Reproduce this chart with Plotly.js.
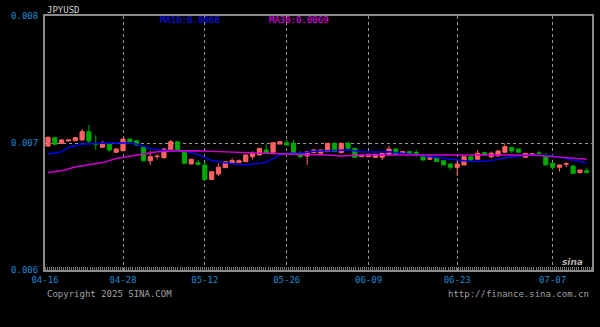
<!DOCTYPE html>
<html>
<head>
<meta charset="utf-8">
<script src="https://cdn.plot.ly/plotly-3.0.1.min.js"></script>
<style>html,body{margin:0;padding:0;background:#000;}#chart{width:600px;height:327px;}</style>
</head>
<body>
<div id="chart"></div>
<script>
// ---- data (candle index 0..79) ----
const openP  = [0.006976,0.007042,0.006998,0.007016,0.007018,0.007024,0.007089,0.006995,0.006966,0.006990,
                0.006927,0.006939,0.007031,0.007018,0.006971,0.006860,0.006893,0.006884,0.006939,0.007010,
                0.006939,0.006835,0.006845,0.006827,0.006713,0.006756,0.006806,0.006840,0.006845,0.006853,
                0.006892,0.006906,0.006945,0.006927,0.006992,0.007002,0.006998,0.006919,0.006898,0.006924,
                0.006919,0.006932,0.006998,0.006924,0.006998,0.006958,0.006892,0.006892,0.006887,0.006887,
                0.006906,0.006953,0.006913,0.006932,0.006924,0.006898,0.006872,0.006884,0.006860,0.006835,
                0.006809,0.006827,0.006892,0.006872,0.006924,0.006892,0.006898,0.006927,0.006966,0.006953,
                0.006887,0.006913,0.006921,0.006892,0.006840,0.006809,0.006833,0.006819,0.006766,0.006782];
const highP  = [0.007050,0.007050,0.007028,0.007026,0.007045,0.007110,0.007142,0.007060,0.007018,0.006995,
                0.006955,0.007035,0.007035,0.007020,0.006976,0.006937,0.006911,0.006960,0.007024,0.007014,
                0.006942,0.006875,0.006866,0.006850,0.006776,0.006840,0.006855,0.006880,0.006872,0.006908,
                0.006935,0.006960,0.006990,0.007004,0.007012,0.007024,0.007024,0.006935,0.006934,0.006955,
                0.006947,0.007000,0.007000,0.007000,0.007012,0.006960,0.006908,0.006913,0.006913,0.006921,
                0.006976,0.006955,0.006934,0.006934,0.006945,0.006900,0.006908,0.006886,0.006862,0.006837,
                0.006860,0.006894,0.006905,0.006945,0.006926,0.006932,0.006945,0.006998,0.006968,0.006955,
                0.006921,0.006916,0.006936,0.006921,0.006850,0.006830,0.006850,0.006827,0.006790,0.006806];
const lowP   = [0.006970,0.006985,0.006995,0.007014,0.007015,0.007020,0.006992,0.006945,0.006962,0.006932,
                0.006925,0.006935,0.007008,0.006982,0.006858,0.006827,0.006872,0.006880,0.006936,0.006936,
                0.006838,0.006832,0.006820,0.006710,0.006710,0.006740,0.006803,0.006835,0.006843,0.006850,
                0.006870,0.006904,0.006917,0.006925,0.006990,0.006982,0.006922,0.006880,0.006827,0.006920,
                0.006917,0.006930,0.006930,0.006922,0.006956,0.006885,0.006890,0.006890,0.006885,0.006866,
                0.006904,0.006911,0.006911,0.006917,0.006890,0.006864,0.006866,0.006851,0.006825,0.006790,
                0.006740,0.006825,0.006850,0.006870,0.006904,0.006880,0.006896,0.006925,0.006920,0.006925,
                0.006885,0.006910,0.006900,0.006825,0.006790,0.006774,0.006810,0.006755,0.006764,0.006764];
const closeP = [0.007045,0.006990,0.007024,0.007024,0.007042,0.007089,0.007016,0.006990,0.006998,0.006945,
                0.006953,0.007031,0.007010,0.006984,0.006860,0.006892,0.006896,0.006953,0.007010,0.006939,
                0.006840,0.006872,0.006832,0.006713,0.006774,0.006809,0.006853,0.006861,0.006861,0.006906,
                0.006919,0.006958,0.006919,0.007002,0.007010,0.006984,0.006924,0.006892,0.006932,0.006945,
                0.006945,0.006998,0.006932,0.006998,0.006958,0.006887,0.006906,0.006911,0.006911,0.006919,
                0.006953,0.006913,0.006932,0.006919,0.006920,0.006866,0.006884,0.006853,0.006827,0.006809,
                0.006835,0.006892,0.006866,0.006919,0.006906,0.006919,0.006937,0.006971,0.006937,0.006927,
                0.006919,0.006914,0.006920,0.006827,0.006809,0.006827,0.006836,0.006761,0.006787,0.006766];

const ma10Idx = [0,2,3,5,8,11,13,15,17,20,22,24,26,28,29,31,32,34,35,37,39,41,44,46,48,50,52,55,57,59,61,63,65,67,69,71,74,76,78,79];
const ma10Val = [0.006913,0.006931,0.006965,0.006992,0.006998,0.007002,0.006992,0.006954,0.006943,0.006937,
                 0.006909,0.006862,0.006844,0.006831,0.006827,0.006840,0.006848,0.006906,0.006919,0.006919,
                 0.006935,0.006939,0.006945,0.006931,0.006928,0.006931,0.006918,0.006899,0.006891,0.006878,
                 0.006860,0.006854,0.006861,0.006882,0.006898,0.006906,0.006899,0.006878,0.006850,0.006841];
const ma30Idx = [0,2,4,8,10,14,16,18,22,25,28,32,35,38,41,43,45,48,52,60,66,71,74,77,79];
const ma30Val = [0.006768,0.006782,0.006811,0.006846,0.006878,0.006917,0.006931,0.006937,0.006939,0.006932,
                 0.006924,0.006919,0.006913,0.006911,0.006906,0.006898,0.006904,0.006906,0.006906,0.006911,
                 0.006906,0.006906,0.006893,0.006880,0.006872];

const tickIdx = [0, 11, 23, 35, 47, 60, 74];
const tickLabels = ['04-16','04-28','05-12','05-26','06-09','06-23','07-07'];
const yTicks = [0.006, 0.007, 0.008];
const yTickLabels = ['0.006','0.007','0.008'];
const titleText = 'JPYUSD';
const legend10 = 'MA10:0.0068';
const legend30 = 'MA30:0.0069';

// ---- chart ----
const idx = openP.map((_, i) => i);
const W = 600, H = 327, L = 45, R = 8, T = 16, B = 57;
const pw = W - L - R, ph = H - T - B;
const px = x => (x - L) / pw;
const py = y => (H - B - y) / ph;
const xRange = [-0.44, 79.77];
const mono = 'DejaVu Sans Mono, monospace';

const traces = [
  {type:'candlestick', x: idx, open: openP, high: highP, low: lowP, close: closeP,
   increasing:{line:{color:'#ff6262', width:1}, fillcolor:'#ff6262'},
   decreasing:{line:{color:'#00a800', width:1}, fillcolor:'#00a800'},
   whiskerwidth: 0, hoverinfo:'skip', showlegend:false},
  {type:'scatter', mode:'lines', x: ma10Idx, y: ma10Val, line:{color:'#0000f0', width:1.4}, hoverinfo:'skip', showlegend:false},
  {type:'scatter', mode:'lines', x: ma30Idx, y: ma30Val, line:{color:'#d000d0', width:1.4}, hoverinfo:'skip', showlegend:false}
];

const layout = {
  width: W, height: H,
  margin: {l: L, r: R, t: T, b: B, pad: 0},
  paper_bgcolor: '#000', plot_bgcolor: '#000',
  boxgap: 0.12,
  font: {family: mono, size: 9, color: '#aaa'},
  showlegend: false,
  xaxis: {
    range: xRange, rangeslider: {visible: false},
    tickmode: 'array', tickvals: tickIdx.map((v, i) => i === 0 ? xRange[0] : v), ticktext: tickLabels,
    tickfont: {family: mono, size: 9, color: '#1e88d0'},
    ticks: '', showgrid: true, gridcolor: '#9a9a9a', griddash: 'dot', gridwidth: 1,
    showline: true, linecolor: '#8a8a8a', linewidth: 2, mirror: true, zeroline: false,
    minor: {tickmode: 'linear', tick0: -0.44, dtick: 0.3, ticks: 'inside', ticklen: 3, tickcolor: '#777', tickwidth: 1, showgrid: false},
    fixedrange: true
  },
  yaxis: {
    range: [0.006, 0.008], tickmode: 'array', tickvals: yTicks, ticktext: yTickLabels,
    tickfont: {family: mono, size: 9, color: '#1e88d0'},
    ticks: '', ticklabelstandoff: 3, showgrid: true, gridcolor: '#9a9a9a', griddash: 'dot', gridwidth: 1,
    showline: true, linecolor: '#8a8a8a', linewidth: 2, mirror: true, zeroline: false, fixedrange: true
  },
  annotations: [
    {xref:'paper', yref:'paper', x: px(45), y: py(10), xanchor:'left', yanchor:'middle', showarrow:false,
     text: titleText, font:{family: mono, size: 9, color:'#d0d0d0'}},
    {xref:'paper', yref:'paper', x: px(158), y: py(20), xanchor:'left', yanchor:'middle', showarrow:false,
     text: legend10, font:{family: mono, size: 9, color:'#1010ff'}},
    {xref:'paper', yref:'paper', x: px(267), y: py(20), xanchor:'left', yanchor:'middle', showarrow:false,
     text: legend30, font:{family: mono, size: 9, color:'#ee00ee'}},
    {xref:'paper', yref:'paper', x: px(45), y: py(294), xanchor:'left', yanchor:'middle', showarrow:false,
     text: 'Copyright 2025 SINA.COM', font:{family: mono, size: 9, color:'#a0a0a0'}},
    {xref:'paper', yref:'paper', x: px(591), y: py(294), xanchor:'right', yanchor:'middle', showarrow:false,
     text: 'http://finance.sina.com.cn', font:{family: mono, size: 9, color:'#a0a0a0'}},
    {xref:'paper', yref:'paper', x: px(572), y: py(262), xanchor:'center', yanchor:'middle', showarrow:false,
     text: '<i><b>sina</b></i>', font:{family: 'DejaVu Sans', size: 9, color:'#b0b0b0'}}
  ]
};

Plotly.newPlot('chart', traces, layout, {staticPlot: true, displayModeBar: false});
</script>
</body>
</html>
